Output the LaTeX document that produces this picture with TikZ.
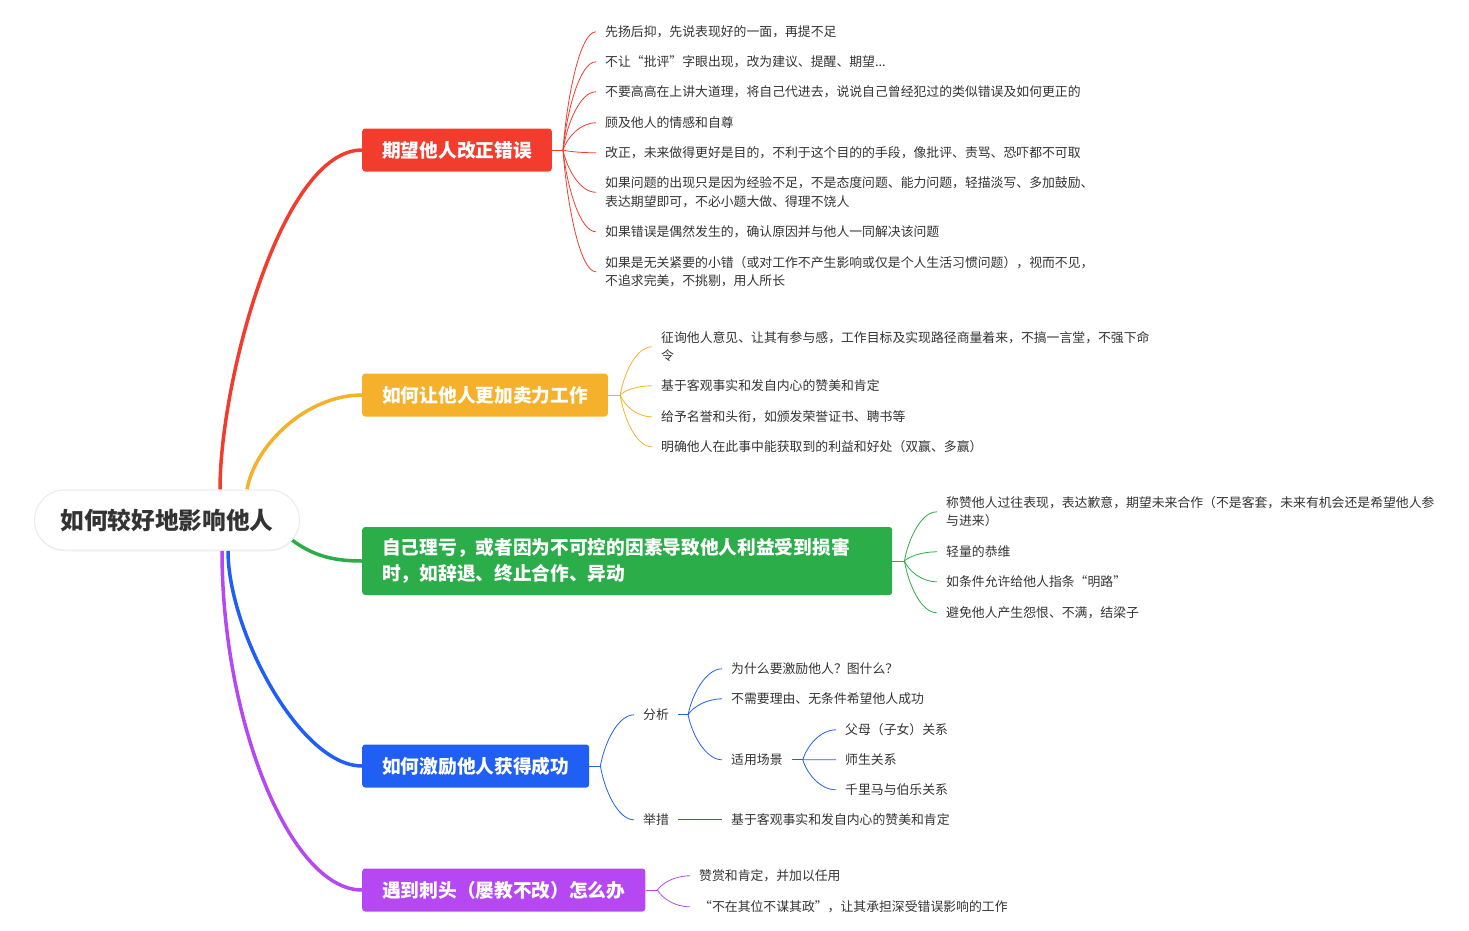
\documentclass[tikz,border=0pt]{standalone}
\usepackage{fontspec}
\setmainfont{Noto Sans CJK SC}
\usetikzlibrary{calc,backgrounds,shadows}
\definecolor{mred}{HTML}{F23C2E}
\definecolor{morange}{HTML}{F6B12C}
\definecolor{mgreen}{HTML}{2BAD4A}
\definecolor{mblue}{HTML}{1F5FF4}
\definecolor{mpurple}{HTML}{B548F2}
\definecolor{textgray}{HTML}{333333}
\tikzset{
  root/.style={draw=black!8, line width=1pt, fill=white, rounded corners=30pt,
    minimum width=265pt, minimum height=60pt, text=textgray,
    drop shadow={shadow xshift=0pt, shadow yshift=-1.5pt, opacity=0.08},
    font=\fontsize{23.7}{28}\selectfont\bfseries},
  topic/.style={fill=#1, rounded corners=3pt, text=white, anchor=west, inner xsep=20pt,
    minimum height=43pt, align=left, font=\fontsize{18.7}{26}\selectfont\bfseries},
  leaf/.style={anchor=west, inner xsep=9pt, inner ysep=2pt, align=left, text=textgray,
    yshift=-0.8pt, font=\fontsize{12.85}{18.5}\selectfont},
  trunk/.style={draw=#1, line width=3.5pt},
  twig/.style={draw=#1, line width=0.8pt},
  fanto/.style={to path={.. controls ($(\tikztostart)!0.45!(\tikztostart|-\tikztotarget)+(4,0)$) and ($(\tikztotarget)+(-16,0)$) .. (\tikztotarget)}},
}
\begin{document}
\begin{tikzpicture}[x=1pt,y=-1pt]
\useasboundingbox (0,0) rectangle (1469,930);
% root
\node[root] (root) at (167,520) {如何较好地影响他人};
% topics
\node[topic=mred] (err) at (362,150) {期望他人改正错误};
\node[topic=morange] (work) at (362,395) {如何让他人更加卖力工作};
\node[topic=mgreen, text width=490pt, minimum height=68pt] (loss) at (362,561) {自己理亏，或者因为不可控的因素导致他人利益受到损害\\时，如辞退、终止合作、异动};
\node[topic=mblue] (succ) at (362,766) {如何激励他人获得成功};
\node[topic=mpurple] (thorn) at (362,890) {遇到刺头（屡教不改）怎么办};
% main branches
\begin{scope}[on background layer]
\draw[trunk=mred] ($(root.north)+(53,0)$) .. controls +(0,-110) and +(-80,0) .. (err.west);
\draw[trunk=morange] ($(root.north)+(80,0)$) .. controls +(8,-45) and +(-55,0) .. (work.west);
\draw[trunk=mgreen] ($(root.east)+(-8,20)$) .. controls +(20,15) and +(-30,0) .. (loss.west);
\draw[trunk=mblue] ($(root.south)+(61,0)$) .. controls +(0,80) and +(-62,0) .. (succ.west);
\draw[trunk=mpurple] ($(root.south)+(55,0)$) .. controls +(0,170) and +(-72,0) .. (thorn.west);
\end{scope}
% leaves of err
\node[leaf] (r1) at (596,31) {先扬后抑，先说表现好的一面，再提不足};
\node[leaf] (r2) at (596,61) {不让“批评”字眼出现，改为建议、提醒、期望...};
\node[leaf] (r3) at (596,91) {不要高高在上讲大道理，将自己代进去，说说自己曾经犯过的类似错误及如何更正的};
\node[leaf] (r4) at (596,122) {顾及他人的情感和自尊};
\node[leaf] (r5) at (596,152) {改正，未来做得更好是目的，不利于这个目的的手段，像批评、责骂、恐吓都不可取};
\node[leaf] (r6) at (596,191.5) {如果问题的出现只是因为经验不足，不是态度问题、能力问题，轻描淡写、多加鼓励、\\表达期望即可，不必小题大做、得理不饶人};
\node[leaf] (r7) at (596,231) {如果错误是偶然发生的，确认原因并与他人一同解决该问题};
\node[leaf] (r8) at (596,271) {如果是无关紧要的小错（或对工作不产生影响或仅是个人生活习惯问题），视而不见，\\不追求完美，不挑剔，用人所长};
\coordinate (ro) at ($(err.east)+(11,0)$);
\draw[twig=mred] (err.east) -- (ro);
\foreach \i in {1,...,8} \draw[twig=mred] (ro) to[fanto] (r\i.west);
% leaves of work
\node[leaf] (o1) at (652,346) {征询他人意见、让其有参与感，工作目标及实现路径商量着来，不搞一言堂，不强下命\\令};
\node[leaf] (o2) at (652,385) {基于客观事实和发自内心的赞美和肯定};
\node[leaf] (o3) at (652,416) {给予名誉和头衔，如颁发荣誉证书、聘书等};
\node[leaf] (o4) at (652,446) {明确他人在此事中能获取到的利益和好处（双赢、多赢）};
\coordinate (oo) at ($(work.east)+(12,0)$);
\draw[twig=morange] (work.east) -- (oo);
\foreach \i in {1,...,4} \draw[twig=morange] (oo) to[fanto] (o\i.west);
% leaves of loss
\node[leaf] (g1) at (937,511) {称赞他人过往表现，表达歉意，期望未来合作（不是客套，未来有机会还是希望他人参\\与进来）};
\node[leaf] (g2) at (937,551) {轻量的恭维};
\node[leaf] (g3) at (937,581) {如条件允许给他人指条“明路”};
\node[leaf] (g4) at (937,612) {避免他人产生怨恨、不满，结梁子};
\coordinate (go) at ($(loss.east)+(12,0)$);
\draw[twig=mgreen] (loss.east) -- (go);
\foreach \i in {1,...,4} \draw[twig=mgreen] (go) to[fanto] (g\i.west);
% leaves of succ
\node[leaf] (ana) at (634,714) {分析};
\node[leaf] (act) at (634,819) {举措};
\node[leaf] (a1) at (722,668) {为什么要激励他人？图什么？};
\node[leaf] (a2) at (722,698) {不需要理由、无条件希望他人成功};
\node[leaf] (a3) at (722,759) {适用场景};
\node[leaf] (s1) at (836,729) {父母（子女）关系};
\node[leaf] (s2) at (836,759) {师生关系};
\node[leaf] (s3) at (836,789) {千里马与伯乐关系};
\node[leaf] (c1) at (722,819) {基于客观事实和发自内心的赞美和肯定};
\coordinate (bo) at ($(succ.east)+(11,0)$);
\draw[twig=mblue] (succ.east) -- (bo);
\draw[twig=mblue] (bo) to[fanto] (ana.west);
\draw[twig=mblue] (bo) to[fanto] (act.west);
\coordinate (ao) at ($(ana.east)+(10,0)$);
\draw[twig=mblue] (ana.east) -- (ao);
\foreach \i in {1,...,3} \draw[twig=mblue] (ao) to[fanto] (a\i.west);
\coordinate (so) at ($(a3.east)+(11,0)$);
\draw[twig=mblue] (a3.east) -- (so);
\foreach \i in {1,...,3} \draw[twig=mblue] (so) to[fanto] (s\i.west);
\draw[twig=mblue] (act.east) -- (c1.west);
% leaves of thorn
\node[leaf] (p1) at (690,875) {赞赏和肯定，并加以任用};
\node[leaf] (p2) at (690,906) {“不在其位不谋其政”，让其承担深受错误影响的工作};
\coordinate (po) at ($(thorn.east)+(12,0)$);
\draw[twig=mpurple] (thorn.east) -- (po);
\foreach \i in {1,2} \draw[twig=mpurple] (po) to[fanto] (p\i.west);
\end{tikzpicture}
\end{document}
